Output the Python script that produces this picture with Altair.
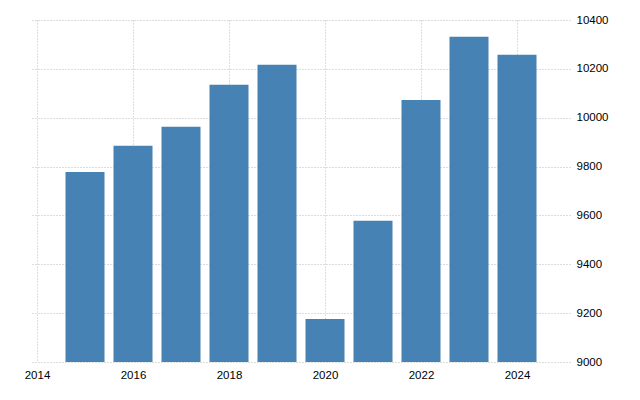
import altair as alt
import pandas as pd

years = [2015, 2016, 2017, 2018, 2019, 2020, 2021, 2022, 2023, 2024]
values = [9778, 9885, 9963, 10135, 10217, 9176, 9578, 10073, 10331, 10258]
x_ticks = [2014, 2016, 2018, 2020, 2022, 2024]
y_ticks = [9000, 9200, 9400, 9600, 9800, 10000, 10200, 10400]
baseline = 9000

df = pd.DataFrame({"year": years, "value": values})

grid = dict(gridColor="#bbbbbb", gridDash=[1, 2], gridWidth=1)

chart = alt.Chart(df).mark_bar(size=39, color="#4682B4").encode(
    x=alt.X("year:Q",
            scale=alt.Scale(domain=[2014, 2025], nice=False, zero=False),
            axis=alt.Axis(values=x_ticks, format="d", title=None, domain=False,
                          ticks=False, labelPadding=7, labelFontSize=11.5,
                          labelFont="Liberation Sans", labelColor="#000",
                          **grid)),
    y=alt.Y("value:Q",
            scale=alt.Scale(domain=[9000, 10400], nice=False, zero=False),
            axis=alt.Axis(values=y_ticks, format="d", orient="right", title=None,
                          domain=False, ticks=False, labelPadding=6, labelFontSize=11.5,
                          labelFont="Liberation Sans", labelColor="#000",
                          **grid)),
    y2=alt.datum(baseline),
).properties(
    width=538, height=342,
    autosize=alt.AutoSizeParams(type="none"),
    padding={"left": 24, "top": 12, "right": 50, "bottom": 30},
).configure_view(stroke=None)

chart.save("out.html", embed_options={"renderer": "svg", "actions": False})
